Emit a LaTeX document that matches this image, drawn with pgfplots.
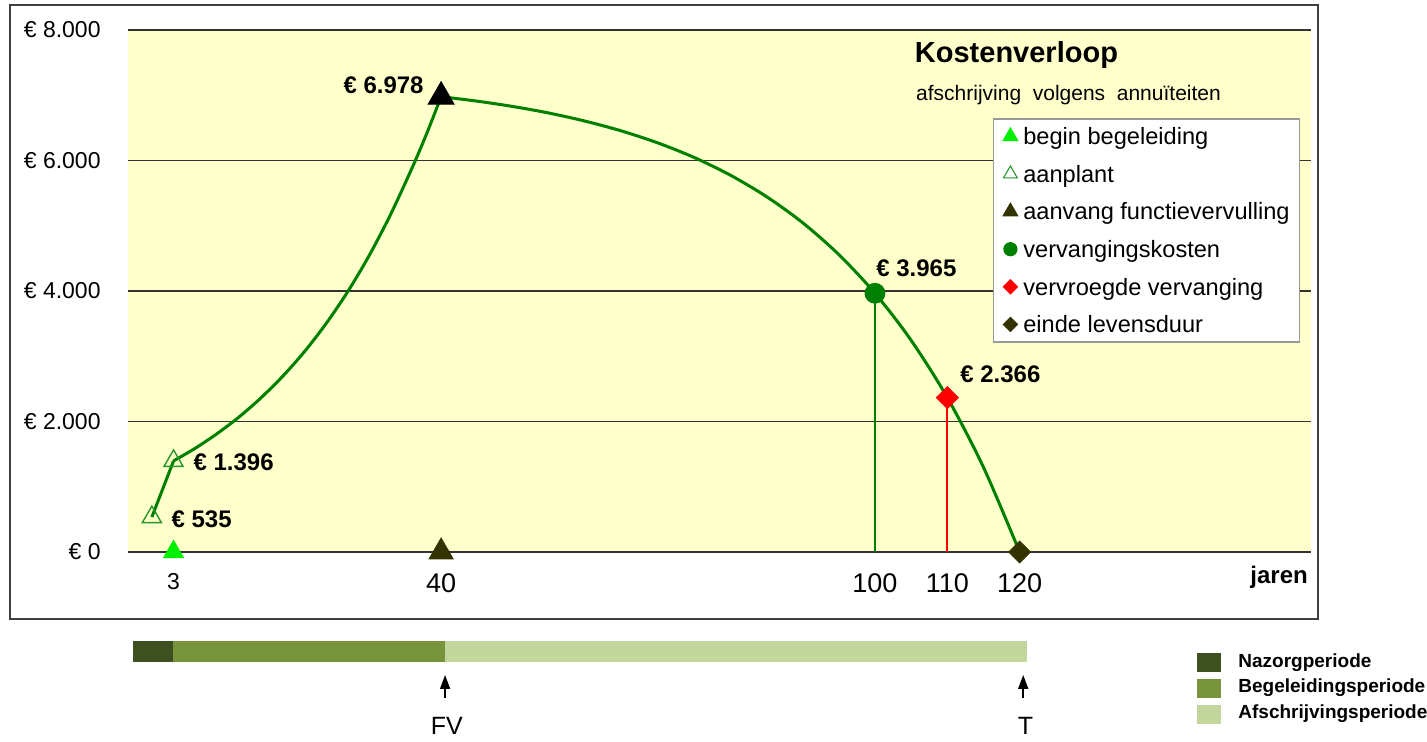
\documentclass[border=0pt]{standalone}
\usepackage{fontspec}
\setmainfont{Liberation Sans}
\usepackage{pgfplots}
\usepackage{pgfplotstable}
\pgfplotsset{compat=1.18}
\usetikzlibrary{arrows.meta}
\definecolor{bgyellow}{RGB}{255,255,204}
\definecolor{curvegreen}{RGB}{0,128,0}
\definecolor{brightgreen}{RGB}{0,240,0}
\definecolor{hollowgreen}{RGB}{40,150,40}
\definecolor{olivedark}{RGB}{51,51,0}
\definecolor{dropred}{RGB}{255,0,0}
\definecolor{nazorg}{RGB}{63,80,32}
\definecolor{begel}{RGB}{119,147,60}
\definecolor{afschr}{RGB}{195,214,155}
\definecolor{framegray}{RGB}{64,64,64}
\newcommand{\fs}[1]{\fontsize{#1}{1.2\dimexpr #1pt\relax}\selectfont}

\pgfplotstableread{
x y
3 1396
6 1590
9 1812
12 2064
15 2353
18 2682
21 3057
24 3486
27 3975
30 4533
33 5170
36 5890
38 6410
40 6978
}\rising

\pgfplotstableread{
x y
40 6978
45 6909
50 6826
55 6725
60 6601
65 6451
70 6268
75 6046
80 5775
85 5446
90 5046
95 4558
100 3965
105 3244
110 2366
115 1299
120 0
}\falling

\begin{document}
\begin{tikzpicture}
\begin{axis}[
  at={(64pt,95pt)}, anchor=south west,
  scale only axis, width=591.5pt, height=261pt,
  xmin=-3.3, xmax=160.3, ymin=0, ymax=8000,
  clip=false,
  axis background/.style={fill=bgyellow},
  axis line style={draw=none},
  major tick length=0pt,
  ytick={0,2000,4000,6000,8000},
  yticklabels={€ 0,€ 2.000,€ 4.000,€ 6.000,€ 8.000},
  ymajorgrids,
  major grid style={black!80, line width=0.7pt},
  xtick={3,40,100,110,120},
  xticklabels={{\fs{11.5}3},40,100,110,120},
  x tick label style={font=\fs{13.5}, inner sep=0pt, anchor=north, yshift=-10.5pt},
  y tick label style={font=\fs{11.5}, inner sep=0pt, anchor=east, xshift=-13.5pt},
  legend image code/.code={\draw[#1] plot coordinates {(0pt,0pt)};},
  legend style={at={(0.731,0.831)}, anchor=north west,
    draw=black!40, line width=0.7pt, fill=white,
    font=\fs{11.8}, inner xsep=5pt, inner ysep=3pt, row sep=7.4pt,
    cells={anchor=west},
    nodes={inner sep=0pt},
    /tikz/every odd column/.append style={column sep=3pt}},
]
% period bar
\addplot[fill=nazorg, draw=none, forget plot] coordinates {(-2.6,-1364) (2.95,-1364) (2.95,-1686) (-2.6,-1686)} -- cycle;
\addplot[fill=begel, draw=none, forget plot] coordinates {(2.95,-1364) (40.55,-1364) (40.55,-1686) (2.95,-1686)} -- cycle;
\addplot[fill=afschr, draw=none, forget plot] coordinates {(40.55,-1364) (121,-1364) (121,-1686) (40.55,-1686)} -- cycle;

% drop lines
\addplot[draw=curvegreen, line width=0.8pt, forget plot] coordinates {(100,0) (100,3965)};
\addplot[draw=dropred, line width=0.8pt, forget plot] coordinates {(110,0) (110,2366)};

% curve
\addplot[curvegreen, line width=1.5pt, line join=round, forget plot] coordinates {(0,535) (3,1396)};
\addplot[curvegreen, line width=1.5pt, smooth, forget plot] table[x=x,y=y] {\rising};
\addplot[curvegreen, line width=1.5pt, smooth, forget plot] table[x=x,y=y] {\falling};

% markers
\addplot[only marks, mark=triangle, mark size=5.5pt, hollowgreen, mark options={line width=0.7pt, fill=bgyellow, fill opacity=0}, forget plot] coordinates {(0,535) (3,1396)};
\addplot[only marks, mark=triangle*, mark size=5.8pt, brightgreen, forget plot] coordinates {(3,0)};
\addplot[only marks, mark=triangle*, mark size=7pt, olivedark, forget plot] coordinates {(40,0)};
\addplot[only marks, mark=triangle*, mark size=7.5pt, black, forget plot] coordinates {(40,6978)};
\addplot[only marks, mark=*, mark size=5pt, curvegreen, forget plot] coordinates {(100,3965)};
\addplot[only marks, mark=square*, mark size=3.9pt, mark options={rotate=45}, dropred, forget plot] coordinates {(110,2366)};
\addplot[only marks, mark=square*, mark size=3.9pt, mark options={rotate=45}, olivedark, forget plot] coordinates {(120,0)};

% legend
\addlegendimage{only marks, mark=triangle*, brightgreen, mark size=4pt}
\addlegendentry{\strut begin begeleiding}
\addlegendimage{only marks, mark=triangle, hollowgreen, mark size=4pt, mark options={line width=0.55pt}}
\addlegendentry{\strut aanplant}
\addlegendimage{only marks, mark=triangle*, olivedark, mark size=4pt}
\addlegendentry{\strut aanvang functievervulling}
\addlegendimage{only marks, mark=*, curvegreen, mark size=3.2pt}
\addlegendentry{\strut vervangingskosten}
\addlegendimage{only marks, mark=square*, mark options={rotate=45}, dropred, mark size=2.4pt}
\addlegendentry{\strut vervroegde vervanging}
\addlegendimage{only marks, mark=square*, mark options={rotate=45}, olivedark, mark size=2.4pt}
\addlegendentry{\strut einde levensduur}

% value labels
\node[anchor=west, inner sep=0pt, font=\bfseries\fs{12}] at (axis cs:26.45,7157) {€ 6.978};
\node[anchor=west, inner sep=0pt, font=\bfseries\fs{12}] at (axis cs:5.71,1379) {€ 1.396};
\node[anchor=west, inner sep=0pt, font=\bfseries\fs{12}] at (axis cs:2.67,506) {€ 535};
\node[anchor=west, inner sep=0pt, font=\bfseries\fs{12}] at (axis cs:100.14,4345) {€ 3.965};
\node[anchor=west, inner sep=0pt, font=\bfseries\fs{12}] at (axis cs:111.75,2728) {€ 2.366};

% titles
\node[font=\bfseries\fs{14.5}, inner sep=0pt] at (rel axis cs:0.751,0.952) {Kostenverloop};
\node[font=\fs{10.5}, inner sep=0pt] at (rel axis cs:0.795,0.876) {afschrijving\ \ volgens\ \ annuïteiten};
\node[font=\bfseries\fs{12}, inner sep=0pt] at (rel axis cs:0.973,-0.048) {jaren};

% arrows and period labels
\draw[line width=0.8pt, -{Triangle[length=7pt,width=5pt]}] (axis cs:40.55,-2238) -- (axis cs:40.55,-1885);
\draw[line width=0.8pt, -{Triangle[length=7pt,width=5pt]}] (axis cs:120.5,-2238) -- (axis cs:120.5,-1885);
\node[font=\fs{12.5}, inner sep=0pt] at (axis cs:40.8,-2670) {FV};
\node[font=\fs{12.5}, inner sep=0pt] at (axis cs:120.8,-2670) {T};
\end{axis}

% outer frame
\draw[framegray, line width=0.75pt] (5pt,368.5pt) rectangle (659pt,61.5pt);

% period legend
\fill[nazorg] (598.5pt,44.5pt) rectangle (610.5pt,35pt);
\fill[begel] (598.5pt,31.5pt) rectangle (610.5pt,22pt);
\fill[afschr] (598.5pt,18.5pt) rectangle (610.5pt,9pt);
\node[anchor=west, inner sep=0pt, font=\bfseries\fs{9.5}] at (619pt,39.5pt) {Nazorgperiode};
\node[anchor=west, inner sep=0pt, font=\bfseries\fs{9.5}] at (619pt,27pt) {Begeleidingsperiode};
\node[anchor=west, inner sep=0pt, font=\bfseries\fs{9.5}] at (619pt,14pt) {Afschrijvingsperiode};

\pgfresetboundingbox
\path[use as bounding box] (0,0) rectangle (713.5pt,371pt);
\end{tikzpicture}
\end{document}
